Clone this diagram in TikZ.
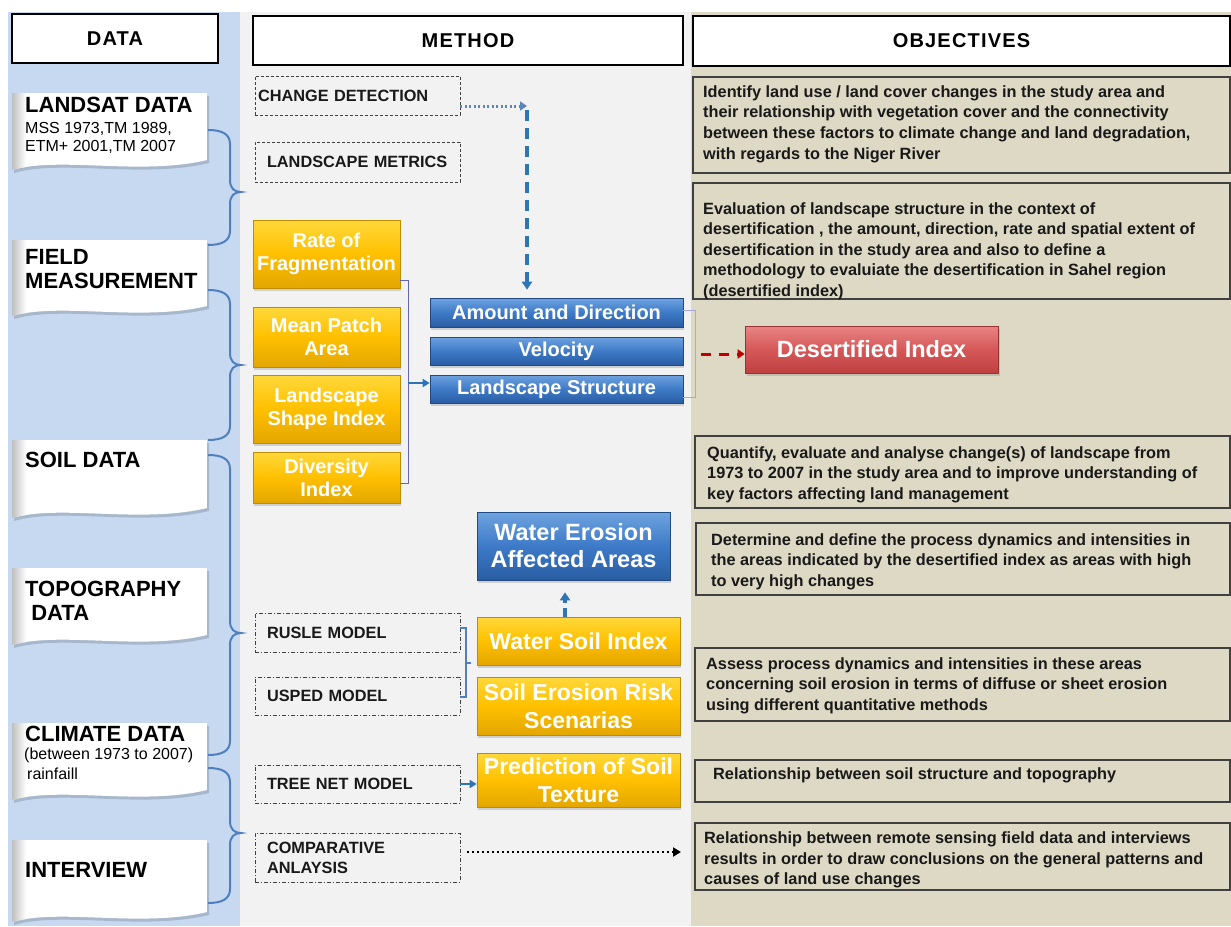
\documentclass[tikz,border=0pt]{standalone}
\usepackage{fontspec}
\setmainfont{Liberation Sans}
\newfontfamily\hdrfont{Liberation Sans}[LetterSpace=6]
\usetikzlibrary{arrows.meta,shadows}
\definecolor{leftbg}{HTML}{C6D9F0}
\definecolor{midbg}{HTML}{F2F2F2}
\definecolor{rightbg}{HTML}{DDD9C4}
\definecolor{bracecol}{HTML}{4F7FBF}
\definecolor{ytop}{HTML}{FFD83A}
\definecolor{ymid}{HTML}{FFC000}
\definecolor{ybot}{HTML}{E3A600}
\definecolor{btop}{HTML}{6FA3E0}
\definecolor{bmid}{HTML}{3D7AC7}
\definecolor{bbot}{HTML}{2A5DA3}
\definecolor{rtop}{HTML}{E88585}
\definecolor{rmid}{HTML}{D65757}
\definecolor{rbot}{HTML}{BF4040}
\definecolor{arrowblue}{HTML}{2E75B6}
\definecolor{dotblue}{HTML}{5B86B8}
\definecolor{redarr}{HTML}{C00000}
\hyphenpenalty=10000
\exhyphenpenalty=10000
\tikzset{
  hdr/.style={draw=black, line width=2.5pt, fill=white, inner sep=0pt,
    font=\hdrfont\bfseries\fontsize{20}{22}\selectfont},
  dlabel/.style={inner sep=0pt, anchor=west, align=left, font=\bfseries\fontsize{22}{24}\selectfont},
  dsub/.style={inner sep=0pt, anchor=west, font=\fontsize{16}{18}\selectfont},
  braceline/.style={draw=bracecol, line width=2pt},
  mbox/.style={draw=black!75, line width=0.8pt, align=left, inner ysep=0pt, text=black!90,
    minimum height=38pt, font=\bfseries\fontsize{16.3}{20}\selectfont},
  dashbox/.style={mbox, dash pattern=on 3pt off 2pt},
  dashdotbox/.style={mbox, dash pattern=on 4pt off 2pt on 1pt off 2pt},
  ybox/.style={draw=ybot!85!black, line width=0.6pt, top color=ytop, bottom color=ybot, middle color=ymid,
    text=white, align=center, inner sep=0pt, font=\bfseries\fontsize{20}{23}\selectfont,
    drop shadow={opacity=0.3, shadow xshift=1pt, shadow yshift=-2.5pt}},
  bbox/.style={draw=bbot!80!black, line width=0.6pt, top color=btop, bottom color=bbot, middle color=bmid,
    text=white, align=center, inner sep=0pt, font=\bfseries\fontsize{20}{23}\selectfont,
    drop shadow={opacity=0.3, shadow xshift=1pt, shadow yshift=-2.5pt}},
  rbox/.style={draw=rbot!80!black, line width=0.6pt, top color=rtop, bottom color=rbot, middle color=rmid,
    text=white, align=center, inner sep=0pt, font=\bfseries\fontsize{23.5}{27}\selectfont,
    drop shadow={opacity=0.3, shadow xshift=1.5pt, shadow yshift=-3pt}},
  obox/.style={draw=black!75, line width=1.2pt, inner sep=0pt},
  otext/.style={inner sep=0pt, anchor=west, align=left, text=black!90,
    font=\bfseries\fontsize{16.3}{20.6}\selectfont},
  barrow/.style={arrowblue, line width=2.5pt, -{Triangle[length=7pt,width=8pt]}},
  vdash/.style={arrowblue, line width=3.5pt, dash pattern=on 11pt off 7pt, -{Triangle[length=8pt,width=10pt]}},
  dotarrow/.style={dotblue, line width=3pt, dash pattern=on 2pt off 2.5pt, -{Triangle[length=7pt,width=9pt]}},
  dotblack/.style={black, line width=2.2pt, dash pattern=on 2pt off 3pt, -{Triangle[length=8pt,width=9pt]}},
  redarrow/.style={redarr, line width=3pt, dash pattern=on 10pt off 8pt, -{Triangle[length=7pt,width=9pt]}},
  ybrack/.style={draw=black!50!blue!60, line width=1pt},
  bbrack/.style={draw=black!25!blue!35, line width=1pt},
  rbrack/.style={draw=bracecol, line width=2pt},
}
\newcommand\dbanner[2]{%
  \fill[black, opacity=0.15] (14,#1+3) -- (209,#1+3) -- (209,#2-7) .. controls (142,#2+9) and (62,#2-11) .. (14,#2+3) -- cycle;
  \begin{scope}
    \clip (12,#1) -- (207,#1) -- (207,#2-10) .. controls (140,#2+6) and (60,#2-14) .. (12,#2) -- cycle;
    \fill[white] (12,#1) rectangle (207,#2+10);
    \shade[left color=black!25, right color=white] (12,#1) rectangle (26,#2+10);
  \end{scope}}
\newcommand\rbr[3]{%
  \draw[braceline] (208,#1) .. controls (222,#1) and (230,#1+4) .. (230,#1+14) -- (230,#2-12)
    .. controls (230,#2-4) and (234,#2) .. (241,#2) .. controls (234,#2) and (230,#2+4) .. (230,#2+12)
    -- (230,#3-14) .. controls (230,#3-4) and (222,#3) .. (208,#3);}
\begin{document}
\begin{tikzpicture}[x=1pt,y=-1pt]
\useasboundingbox (0,0) rectangle (1231,926);
\fill[white] (0,0) rectangle (1231,926);
\fill[leftbg] (8,12) rectangle (240,926);
\fill[midbg] (240,12) rectangle (691,926);
\fill[rightbg] (691,12) rectangle (1231,926);

% headers
\node[hdr, minimum width=206pt, minimum height=49pt] (hdata) at (115,38.5) {DATA};
\node[hdr, minimum width=430pt, minimum height=49pt] (hmethod) at (468,40.5) {METHOD};
\node[hdr, minimum width=537pt, minimum height=50pt] (hobj) at (961.5,41) {OBJECTIVES\hspace{18pt}};

% data banners
\dbanner{93}{170}
\dbanner{240}{316}
\dbanner{440}{518}
\dbanner{568}{645}
\dbanner{723}{800}
\dbanner{840}{922}
\node[dlabel] (landsat) at (25,105) {LANDSAT DATA};
\node[dsub] (landsat2) at (25,129) {MSS 1973,TM 1989,};
\node[dsub] (landsat3) at (25,147) {ETM+ 2001,TM 2007};
\node[dlabel] (field) at (25,269) {FIELD\\MEASUREMENT};
\node[dlabel] (soil) at (25,460) {SOIL DATA};
\node[dlabel] (topo) at (25,601) {TOPOGRAPHY\\\ DATA};
\node[dlabel] (climate) at (25,734) {CLIMATE DATA};
\node[dsub] (climate2) at (24,755) {(between 1973 to 2007)};
\node[dsub] (climate3) at (27,774) {rainfaill};
\node[dlabel] (interview) at (25,870) {INTERVIEW};

% braces
\rbr{130}{192}{245}
\rbr{290}{365}{440}
\rbr{455}{633}{755}
\rbr{768}{833}{903}

% method boxes
\node[dashbox, inner xsep=3pt, text width=199pt, minimum height=39pt] (cd) at (357.5,95.5) {CHANGE DETECTION};
\node[dashbox, inner xsep=12pt, text width=181pt, minimum height=40pt] (lm) at (357.5,162) {LANDSCAPE METRICS};
\node[dashdotbox, inner xsep=12pt, text width=181pt, minimum height=39pt] (rusle) at (357.5,632.5) {RUSLE MODEL};
\node[dashdotbox, inner xsep=12pt, text width=181pt, minimum height=38pt] (usped) at (357.5,696) {USPED MODEL};
\node[dashdotbox, inner xsep=12pt, text width=181pt, minimum height=38pt] (tn) at (357.5,784) {TREE NET MODEL};
\node[dashdotbox, inner xsep=12pt, text width=181pt, minimum height=49pt] (ca) at (357.5,857.5) {COMPARATIVE\\ANLAYSIS};

% yellow metric boxes
\node[ybox, minimum width=147pt, minimum height=68pt] (rf) at (326.5,254) {Rate of\\Fragmentation};
\node[ybox, minimum width=147pt, minimum height=60pt] (mpa) at (326.5,337) {Mean Patch\\Area};
\node[ybox, minimum width=147pt, minimum height=68pt] (lsi) at (326.5,409) {Landscape\\Shape Index};
\node[ybox, minimum width=147pt, minimum height=51pt] (dix) at (326.5,477.5) {Diversity\\Index};

% blue result boxes
\node[bbox, minimum width=253pt, minimum height=29pt] (ad) at (556.5,312.5) {Amount and Direction};
\node[bbox, minimum width=253pt, minimum height=28pt] (vel) at (556.5,351) {Velocity};
\node[bbox, minimum width=253pt, minimum height=28pt] (lst) at (556.5,389) {Landscape Structure};

\node[rbox, minimum width=253pt, minimum height=47pt] (dsi) at (871.5,349.5) {Desertified Index};

\node[bbox, font=\bfseries\fontsize{23.5}{27}\selectfont, minimum width=193pt, minimum height=68pt] (wea) at (573.5,546) {Water Erosion\\Affected Areas};
\node[ybox, font=\bfseries\fontsize{23}{28}\selectfont, minimum width=203pt, minimum height=48pt] (wsi) at (578.5,641) {Water Soil Index};
\node[ybox, font=\bfseries\fontsize{23}{28}\selectfont, minimum width=203pt, minimum height=58pt] (sers) at (578.5,706) {Soil Erosion Risk\\Scenarias};
\node[ybox, font=\bfseries\fontsize{23}{28}\selectfont, minimum width=203pt, minimum height=54pt] (pst) at (578.5,780) {Prediction of Soil\\Texture};

% connectors in method column
\coordinate (turn) at (527,106);
\draw[dotarrow] (cd.east |- turn) -- (turn);
\draw[vdash] ([yshift=-4pt]turn) -- ([yshift=8pt]turn |- ad.north);
\coordinate (yb1) at (408,280);
\coordinate (yb2) at (408,483);
\draw[ybrack] (rf.east |- yb1) -- (yb1) -- (yb2) -- (dix.east |- yb2);
\coordinate (yarr) at (408,383);
\draw[barrow] (yarr) -- (yarr -| lst.west);
\coordinate (bb1) at (695,310);
\coordinate (bb2) at (695,397);
\draw[bbrack] (ad.east |- bb1) -- (bb1) -- (bb2) -- (lst.east |- bb2);
\coordinate (rarr) at (701,354);
\draw[redarrow] (rarr) -- (rarr -| dsi.west);
\draw[vdash, dash pattern=on 9pt off 5pt] ([xshift=-13.5pt]wsi.north) -- ([xshift=-13.5pt,yshift=-12pt]wsi.north |- wea.south);
\coordinate (rb1) at (466,628);
\coordinate (rb2) at (466,697);
\coordinate (rbm) at (466,663);
\draw[rbrack] (rusle.east |- rb1) -- (rb1) -- (rb2) -- (usped.east |- rb2);
\draw[rbrack] (rbm) -- ([xshift=5pt]rbm);
\draw[barrow] (tn.east) -- (tn.east -| pst.west);
\coordinate (caend) at (681,852);
\draw[dotblack] ([xshift=7pt]ca.east |- caend) -- (caend);

% objectives
\node[obox, minimum width=537pt, minimum height=96pt] (o1) at (961.5,125) {};
\node[obox, minimum width=537pt, minimum height=116pt] (o2) at (961.5,241) {};
\node[obox, minimum width=535pt, minimum height=72pt] (o3) at (962.5,472) {};
\node[obox, minimum width=534pt, minimum height=72pt] (o4) at (963,559) {};
\node[obox, minimum width=535pt, minimum height=73pt] (o5) at (962.5,684.5) {};
\node[obox, minimum width=535pt, minimum height=42pt] (o6) at (962.5,781) {};
\node[obox, minimum width=535pt, minimum height=67pt] (o7) at (962.5,856.5) {};

\node[otext] (o1t) at (703,124) {Identify land use / land cover changes in the study area and\\their relationship with vegetation cover and the connectivity\\between these factors to climate change and land degradation,\\with regards to the Niger River};
\node[otext] (o2t) at (703,251) {Evaluation of landscape structure in the context of\\desertification , the amount, direction, rate and spatial extent of\\desertification in the study area and also to define a\\methodology to evaluiate the desertification in Sahel region\\(desertified index)};
\node[otext] (o3t) at (707,474.5) {Quantify, evaluate and analyse change(s) of landscape from\\1973 to 2007 in the study area and to improve understanding of\\key factors affecting land management};
\node[otext] (o4t) at (711,561.5) {Determine and define the process dynamics and intensities in\\the areas indicated by the desertified index as areas with high\\to very high changes};
\node[otext] (o5t) at (706,685.5) {Assess process dynamics and intensities in these areas\\concerning soil erosion in terms of diffuse or sheet erosion\\using different quantitative methods};
\node[otext] (o6t) at (713,775) {Relationship between soil structure and topography};
\node[otext] (o7t) at (704,860) {Relationship between remote sensing field data and interviews\\results in order to draw conclusions on the general patterns and\\causes of land use changes};
\end{tikzpicture}
\end{document}
